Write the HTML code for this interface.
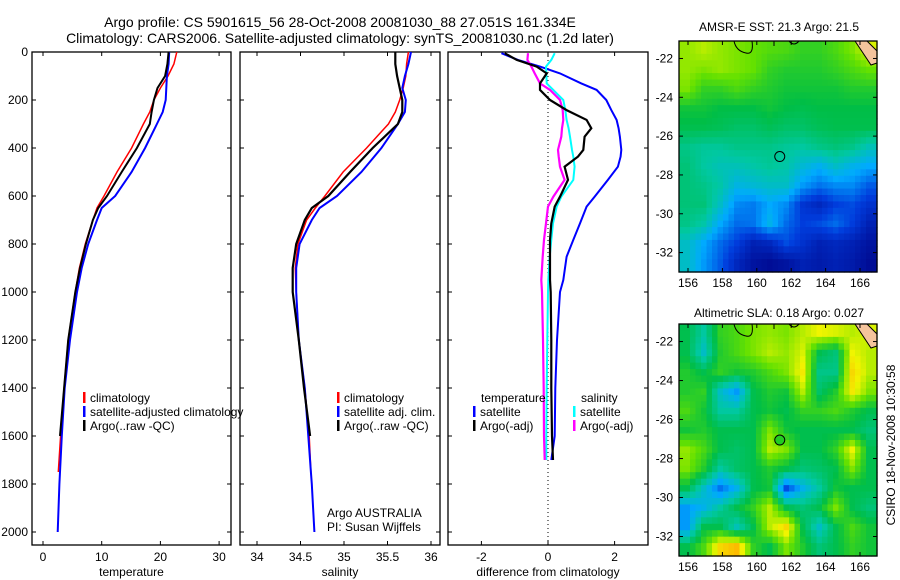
<!DOCTYPE html>
<html><head><meta charset="utf-8"><style>
html,body{margin:0;padding:0;background:#fff;}
svg{display:block;font-family:"Liberation Sans",sans-serif;}
</style></head><body>
<svg id="c" width="900" height="580" xmlns="http://www.w3.org/2000/svg">
<text x="340" y="27" font-size="14" text-anchor="middle">Argo profile: CS 5901615_56 28-Oct-2008 20081030_88 27.051S 161.334E</text>
<text x="340" y="43" font-size="14" text-anchor="middle">Climatology: CARS2006. Satellite-adjusted climatology: synTS_20081030.nc (1.2d later)</text>
<text x="779" y="31" font-size="12" text-anchor="middle">AMSR-E SST: 21.3 Argo: 21.5</text>
<text x="779" y="317" font-size="12" text-anchor="middle">Altimetric SLA: 0.18 Argo: 0.027</text>
<text x="0" y="0" font-size="12" text-anchor="middle" transform="translate(895,445) rotate(-90)">CSIRO 18-Nov-2008 10:30:58</text>
</svg>
<script>
// depth levels (m)
const depths=[0,50,100,150,200,250,300,400,500,600,650,700,800,900,1000,1200,1400,1600,1750,1800,2000];
const tClim=[22.8,22.3,21.3,20.0,18.9,18.2,17.1,15.1,12.6,10.4,9.2,8.5,7.2,6.2,5.5,4.3,3.6,3.0,2.6,null,null];
const tSat=[21.5,21.4,21.1,21.0,20.9,20.4,19.4,17.4,15.1,12.3,10.0,9.2,7.7,6.6,5.8,4.6,3.7,3.2,2.9,2.8,2.5];
const tArgo=[21.4,21.2,20.8,19.5,18.9,18.5,18.2,16.0,13.4,10.9,9.4,8.5,7.3,6.3,5.5,4.3,3.6,2.9,null,null,null];
const sClim=[35.74,35.72,35.71,35.68,35.64,35.59,35.51,35.26,34.99,34.78,34.67,34.57,34.47,34.44,34.45,34.48,34.55,34.6,34.62,null,null];
const sSat=[35.77,35.74,35.70,35.67,35.71,35.70,35.62,35.43,35.2,34.92,34.72,34.63,34.49,34.45,34.45,34.48,34.55,34.59,34.62,34.63,34.66];
const sArgo=[35.59,35.59,35.61,35.64,35.67,35.67,35.62,35.33,35.07,34.82,34.63,34.55,34.45,34.41,34.41,34.48,34.54,34.61,null,null,null];
// difference profiles
const dDepths=[5,33,61,89,131,158,200,242,283,318,353,408,436,478,533,603,644,714,783,853,950,1000,1200,1400,1600,1700];
const dTSat=[-1.4,-0.9,-0.24,0.36,1.0,1.46,1.75,1.9,2.06,2.12,2.16,2.2,2.18,2.1,1.8,1.4,1.16,0.96,0.76,0.56,0.46,0.36,0.27,0.22,0.2,0.1];
const dTArgo=[-1.3,-0.94,-0.34,-0.04,-0.24,-0.24,0.06,0.56,1.16,1.3,1.1,1.06,0.9,0.5,0.6,0.36,0.2,0.1,0.06,0.06,0.06,0.08,0.1,0.1,0.12,0.15];
const dSSat=[0.2,0.1,-0.06,-0.05,-0.04,0.16,0.46,0.52,0.56,0.62,0.66,0.72,0.76,0.8,0.76,0.4,0.26,0.15,0.1,0.05,0.01,0,-0.02,-0.04,-0.05,-0.05];
const dSArgo=[-0.6,-0.62,-0.5,-0.4,-0.24,0.06,0.36,0.44,0.46,0.42,0.4,0.3,0.32,0.36,0.5,0.16,0.0,-0.06,-0.12,-0.16,-0.2,-0.18,-0.15,-0.13,-0.12,-0.1];
const depthTicks=[0,200,400,600,800,1000,1200,1400,1600,1800,2000];
const tTicks=[0,10,20,30];
const sTicks=[34,34.5,35,35.5,36];
const dTicks=[-2,0,2];
// maps
const latTicks=[-22,-24,-26,-28,-30,-32];
const lonTicks=[156,158,160,162,164,166];
const argoLon=161.334, argoLat=-27.051;
const sstGrid=[
[.72,.75,.72,.70,.68,.66,.65,.62,.62,.65,.70,.78],
[.72,.70,.72,.70,.68,.62,.60,.60,.60,.62,.65,.68],
[.70,.62,.62,.65,.62,.60,.58,.58,.58,.58,.60,.60],
[.58,.58,.56,.56,.56,.58,.56,.55,.56,.56,.56,.56],
[.55,.55,.54,.52,.52,.54,.52,.52,.54,.55,.55,.55],
[.48,.46,.46,.48,.48,.48,.46,.45,.48,.50,.48,.42],
[.50,.45,.42,.42,.44,.46,.44,.38,.34,.40,.35,.32],
[.50,.48,.44,.36,.38,.40,.40,.30,.25,.28,.28,.22],
[.50,.50,.40,.28,.26,.32,.28,.16,.12,.18,.20,.15],
[.48,.44,.32,.24,.25,.35,.24,.18,.20,.24,.18,.10],
[.40,.32,.24,.18,.10,.12,.20,.15,.10,.12,.10,.06],
[.40,.30,.22,.12,.06,.04,.06,.10,.08,.10,.08,.04]];
const slaGrid=[
[.55,.45,.62,.65,.70,.72,.70,.75,.80,.78,.75,.78],
[.55,.40,.60,.65,.70,.75,.72,.78,.55,.50,.80,.75],
[.60,.55,.62,.58,.60,.65,.70,.82,.48,.48,.85,.75],
[.60,.62,.40,.30,.55,.60,.58,.75,.52,.60,.82,.70],
[.65,.58,.45,.45,.55,.58,.55,.62,.62,.65,.60,.55],
[.58,.60,.55,.55,.55,.70,.58,.55,.55,.55,.55,.50],
[.72,.65,.55,.52,.55,.75,.70,.55,.55,.62,.80,.55],
[.70,.60,.45,.52,.55,.60,.55,.50,.52,.55,.70,.55],
[.55,.40,.25,.35,.55,.58,.20,.35,.45,.58,.55,.55],
[.30,.35,.45,.55,.62,.75,.55,.50,.55,.70,.55,.50],
[.30,.55,.55,.42,.55,.75,.85,.55,.40,.55,.65,.58],
[.55,.65,.85,.90,.62,.55,.70,.60,.50,.55,.62,.58]];

const NS="http://www.w3.org/2000/svg", svg=document.getElementById('c');
function mk(tag,attrs,parent){const e=document.createElementNS(NS,tag);for(const k in attrs)e.setAttribute(k,attrs[k]);(parent||svg).appendChild(e);return e;}
const Y0=52,KY=0.24,PT=52,PB=545;
const yD=d=>Y0+KY*d;
const panels=[
 {x0:32,x1:231,fx:v=>43+5.87*v,ticks:tTicks,lab:'temperature',name:'temperature-panel'},
 {x0:240,x1:440,fx:v=>257+87*(v-34),ticks:sTicks,lab:'salinity',name:'salinity-panel'},
 {x0:448,x1:648,fx:v=>548+33.3*v,ticks:dTicks,lab:'difference from climatology',name:'difference-panel'}];
panels.forEach((p,i)=>{
 const g=mk('g',{});
 
 
 mk('rect',{x:p.x0,y:PT,width:p.x1-p.x0,height:PB-PT,fill:'#fff',stroke:'#000','stroke-width':1.3},g);
 p.ticks.forEach(t=>{const x=p.fx(t);
  mk('line',{x1:x,x2:x,y1:PB,y2:PB-4,stroke:'#000'},g);mk('line',{x1:x,x2:x,y1:PT,y2:PT+4,stroke:'#000'},g);
  const tx=mk('text',{x:x,y:PB+16,'font-size':12,'text-anchor':'middle'},g);tx.textContent=String(t);});
 depthTicks.forEach(d=>{const y=yD(d);
  mk('line',{x1:p.x0,x2:p.x0+4,y1:y,y2:y,stroke:'#000'},g);mk('line',{x1:p.x1,x2:p.x1-4,y1:y,y2:y,stroke:'#000'},g);
  if(i==0){const tx=mk('text',{x:p.x0-4,y:y+4,'font-size':12,'text-anchor':'end'},g);tx.textContent=String(d);}});
 const lt=mk('text',{x:(p.x0+p.x1)/2,y:576,'font-size':12,'text-anchor':'middle'},g);lt.textContent=p.lab;
 
 
});
function line(dep,vals,fx,col,w,name){
 let pts=[];dep.forEach((d,k)=>{if(vals[k]!==null&&vals[k]!==undefined)pts.push(fx(vals[k]).toFixed(1)+','+yD(d).toFixed(1));});
 const e=mk('polyline',{points:pts.join(' '),fill:'none',stroke:col,'stroke-width':w});
 
 
}
mk('line',{x1:548,x2:548,y1:PT,y2:PB,stroke:'#000','stroke-dasharray':'1,3'});
line(depths,tClim,panels[0].fx,'#f00',1.5,'temp-climatology-line');
line(depths,tSat,panels[0].fx,'#00f',2,'temp-satellite-line');
line(depths,tArgo,panels[0].fx,'#000',2,'temp-argo-line');
line(depths,sClim,panels[1].fx,'#f00',1.5,'sal-climatology-line');
line(depths,sSat,panels[1].fx,'#00f',2,'sal-satellite-line');
line(depths,sArgo,panels[1].fx,'#000',2.2,'sal-argo-line');
line(dDepths,dTSat,panels[2].fx,'#00f',2,'diff-temp-satellite-line');
line(dDepths,dSSat,panels[2].fx,'#0ff',2,'diff-sal-satellite-line');
line(dDepths,dSArgo,panels[2].fx,'#f0f',2.2,'diff-sal-argo-line');
line(dDepths,dTArgo,panels[2].fx,'#000',2.2,'diff-temp-argo-line');
function leg(x,y,col,txt,name){
 const g=mk('g',{});
 
 
 if(col)mk('rect',{x:x,y:y-10,width:2.5,height:11,fill:col},g);
 const t=mk('text',{x:x+7,y:y,'font-size':12},g);t.textContent=txt;}
leg(83,402,'#f00','climatology','legend-climatology');
leg(83,416,'#00f','satellite-adjusted climatology','legend-satellite-adjusted');
leg(83,430,'#000','Argo(..raw -QC)','legend-argo');
leg(337,402,'#f00','climatology','legend2-climatology');
leg(337,416,'#00f','satellite adj. clim.','legend2-satellite');
leg(337,430,'#000','Argo(..raw -QC)','legend2-argo');
leg(474,402,null,'temperature','legend3-temperature-header');
leg(473,416,'#00f','satellite','legend3-temp-satellite');
leg(473,430,'#000','Argo(-adj)','legend3-temp-argo');
leg(574,402,null,'salinity','legend3-salinity-header');
leg(573,416,'#0ff','satellite','legend3-sal-satellite');
leg(573,430,'#f0f','Argo(-adj)','legend3-sal-argo');
const ta=mk('text',{x:327,y:517,'font-size':12});ta.textContent='Argo AUSTRALIA';


const tb=mk('text',{x:327,y:531,'font-size':12});tb.textContent='PI: Susan Wijffels';


// colormap
const cmap=[[0,[0,0,130]],[0.18,[0,60,220]],[0.32,[0,170,255]],[0.45,[0,200,160]],[0.56,[0,190,70]],[0.68,[100,225,0]],[0.8,[240,245,0]],[0.92,[255,175,0]],[1,[255,120,0]]];
function col(v){for(let i=1;i<cmap.length;i++){if(v<=cmap[i][0]){const a=cmap[i-1],b=cmap[i],f=(v-a[0])/(b[0]-a[0]);
 return 'rgb('+a[1].map((c,k)=>Math.round(c+(b[1][k]-c)*f)).join(',')+')';}}return 'rgb(255,120,0)';}
function sample(grid,u,v){ // bilinear, u,v in cell coords
 const nr=grid.length,nc=grid[0].length;
 u=Math.max(0,Math.min(nc-1,u-0.5));v=Math.max(0,Math.min(nr-1,v-0.5));
 const c0=Math.floor(u),r0=Math.floor(v),c1=Math.min(nc-1,c0+1),r1=Math.min(nr-1,r0+1),fu=u-c0,fv=v-r0;
 return grid[r0][c0]*(1-fu)*(1-fv)+grid[r0][c1]*fu*(1-fv)+grid[r1][c0]*(1-fu)*fv+grid[r1][c1]*fu*fv;}
function drawMap(top,bot,grid,name,filled){
 const L=679,R=877,lat0=-21.1,lat1=-33.0;
 const fx=lon=>688+17.2*(lon-156), fy=lat=>top+(lat0-lat)*(bot-top)/(lat0-lat1);
 const g=mk('g',{});
 
 
 const nr=grid.length,nc=grid[0].length,S=3,cw=(R-L)/(nc*S),ch=(bot-top)/(nr*S);
 for(let r=0;r<nr*S;r++)for(let c=0;c<nc*S;c++){
  const v=sample(grid,(c+0.5)/S,(r+0.5)/S);
  const e=mk('rect',{x:(L+c*cw).toFixed(2),y:(top+r*ch).toFixed(2),width:(cw+0.6).toFixed(2),height:(ch+0.6).toFixed(2),fill:col(v)},g);
  
  
 }
 mk('polygon',{points:`${R-22},${top} ${R-10},${top} ${R},${top+10} ${R},${top+22} ${R-6},${top+24}`,fill:'#f5c49c',stroke:'#000','stroke-width':1},g);
 mk('path',{d:`M${L+55},${top} q2,10 12,12 q8,2 6,-12 M${L+95},${top} v5 M${L+110},${top} q5,6 10,0`,fill:'none',stroke:'#000','stroke-width':1},g);
 mk('rect',{x:L,y:top,width:R-L,height:bot-top,fill:'none',stroke:'#000','stroke-width':1.3},g);
 latTicks.forEach(l=>{const y=fy(l);mk('line',{x1:L,x2:L+4,y1:y,y2:y,stroke:'#000'},g);mk('line',{x1:R,x2:R-4,y1:y,y2:y,stroke:'#000'},g);
  const t=mk('text',{x:L-6,y:y+4,'font-size':12,'text-anchor':'end'},g);t.textContent=String(l);});
 lonTicks.forEach(l=>{const x=fx(l);mk('line',{x1:x,x2:x,y1:bot,y2:bot-4,stroke:'#000'},g);mk('line',{x1:x,x2:x,y1:top,y2:top+4,stroke:'#000'},g);
  const t=mk('text',{x:x,y:bot+15,'font-size':12,'text-anchor':'middle'},g);t.textContent=String(l);});
 const c=mk('circle',{cx:fx(argoLon),cy:fy(argoLat),r:5,fill:filled?'#2c2':'none',stroke:'#000','stroke-width':1},g);
 
 
}
drawMap(41,272,sstGrid,'sst-map',false);
drawMap(324,556,slaGrid,'sla-map',true);
</script>
</body></html>
